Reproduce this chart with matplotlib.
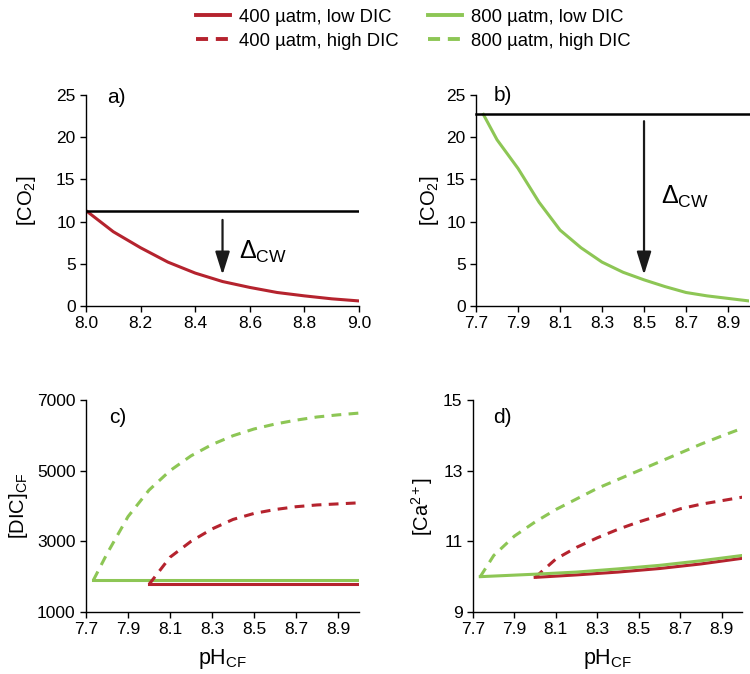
import numpy as np
import matplotlib
matplotlib.use("Agg")
import matplotlib.pyplot as plt
from matplotlib.lines import Line2D

# =========================
# DATA
# =========================

red = "#b5232e"
green = "#8dc655"

# a) 400 uatm, CO2 vs pH
a_ph = [8.0, 8.1, 8.2, 8.3, 8.4, 8.5, 8.6, 8.7, 8.8, 8.9, 9.0]
a_co2 = [11.3, 8.8, 6.9, 5.2, 3.9, 2.9, 2.2, 1.6, 1.2, 0.85, 0.6]
a_cw = 11.3

# b) 800 uatm, CO2 vs pH
b_ph = [7.735, 7.8, 7.9, 8.0, 8.1, 8.2, 8.3, 8.4, 8.5, 8.6, 8.7, 8.8, 8.9, 9.0]
b_co2 = [22.7, 19.7, 16.3, 12.3, 9.0, 6.9, 5.2, 4.0, 3.1, 2.3, 1.6, 1.2, 0.9, 0.6]
b_cw = 22.7

# c) DIC in calcifying fluid
c_green_low_ph = [7.735, 9.0]
c_green_low = [1900, 1900]
c_red_low_ph = [8.0, 9.0]
c_red_low = [1780, 1780]
c_green_high_ph = [7.735, 7.8, 7.9, 8.0, 8.1, 8.2, 8.3, 8.4, 8.5, 8.6, 8.7, 8.8, 8.9, 9.0]
c_green_high = [1900, 2650, 3700, 4450, 5000, 5420, 5740, 5990, 6180, 6320, 6430, 6520, 6580, 6630]
c_red_high_ph = [8.0, 8.1, 8.2, 8.3, 8.4, 8.5, 8.6, 8.7, 8.8, 8.9, 9.0]
c_red_high = [1780, 2550, 3000, 3350, 3620, 3790, 3900, 3980, 4030, 4060, 4090]

# d) Ca2+ in calcifying fluid
d_green_low_ph = [7.735, 8.0, 8.2, 8.4, 8.6, 8.8, 9.0]
d_green_low = [10.0, 10.07, 10.13, 10.22, 10.32, 10.45, 10.6]
d_red_low_ph = [8.0, 8.2, 8.4, 8.6, 8.8, 9.0]
d_red_low = [9.98, 10.05, 10.13, 10.23, 10.36, 10.52]
d_green_high_ph = [7.735, 7.8, 7.9, 8.0, 8.1, 8.2, 8.3, 8.4, 8.5, 8.6, 8.7, 8.8, 8.9, 9.0]
d_green_high = [10.0, 10.6, 11.15, 11.55, 11.9, 12.2, 12.5, 12.75, 13.0, 13.25, 13.5, 13.75, 13.98, 14.2]
d_red_high_ph = [8.0, 8.1, 8.2, 8.3, 8.4, 8.5, 8.6, 8.7, 8.8, 8.9, 9.0]
d_red_high = [9.98, 10.5, 10.83, 11.1, 11.34, 11.55, 11.73, 11.92, 12.05, 12.15, 12.25]

labels = ["400 µatm, low DIC", "400 µatm, high DIC",
          "800 µatm, low DIC", "800 µatm, high DIC"]

# =========================
# STYLE
# =========================

plt.rcParams["font.family"] = ["Liberation Sans", "DejaVu Sans"]
plt.rcParams["mathtext.fontset"] = "custom"
plt.rcParams["mathtext.rm"] = "Liberation Sans"
plt.rcParams["mathtext.it"] = "Liberation Sans:italic"
plt.rcParams["font.size"] = 12.5

lw = 2.2
dash = (0, (3.2, 2.4))

fig = plt.figure(figsize=(7.5, 6.74), dpi=100)
ax_a = fig.add_axes([0.1147, 0.546, 0.364, 0.313])
ax_b = fig.add_axes([0.6347, 0.546, 0.364, 0.313])
ax_c = fig.add_axes([0.1147, 0.092, 0.364, 0.3145])
ax_d = fig.add_axes([0.6307, 0.092, 0.359, 0.3145])


def style(ax):
    for s in ["top", "right"]:
        ax.spines[s].set_visible(False)
    for s in ["left", "bottom"]:
        ax.spines[s].set_linewidth(1.0)
    ax.tick_params(direction="out", length=4, width=1.0, labelsize=12.5)


for ax in [ax_a, ax_b, ax_c, ax_d]:
    style(ax)

arrow = dict(arrowstyle="-|>,head_length=0.7,head_width=0.22", lw=1.6,
             color="#1a1a1a", mutation_scale=20, shrinkA=0, shrinkB=0)

# a)
ax_a.plot(a_ph, a_co2, color=red, lw=lw)
ax_a.plot([8.0, 9.0], [a_cw, a_cw], color="black", lw=1.8)
ax_a.annotate("", xy=(8.5, 3.7), xytext=(8.5, 10.2), arrowprops=arrow)
ax_a.text(8.56, 6.4, r"$\Delta_{\rm CW}$", fontsize=18, va="center")
ax_a.set_xlim(8.0, 9.0)
ax_a.set_ylim(0, 25)
ax_a.set_xticks(np.arange(8.0, 9.01, 0.2))
ax_a.set_xticklabels([f"{v:.1f}" for v in np.arange(8.0, 9.01, 0.2)])
ax_a.set_yticks([0, 5, 10, 15, 20, 25])
ax_a.set_ylabel("[CO$_2$]", fontsize=14.5, labelpad=13)
ax_a.text(8.11, 24.7, "a)", fontsize=15, ha="center", va="center")

# b)
xt = np.arange(7.7, 8.91, 0.2)
ax_b.plot(b_ph, b_co2, color=green, lw=lw)
ax_b.plot([7.7, 9.0], [b_cw, b_cw], color="black", lw=1.8, clip_on=False)
ax_b.annotate("", xy=(8.5, 3.7), xytext=(8.5, 21.9), arrowprops=arrow)
ax_b.text(8.58, 12.9, r"$\Delta_{\rm CW}$", fontsize=18, va="center")
ax_b.set_xlim(7.7, 9.0)
ax_b.set_ylim(0, 25)
ax_b.set_xticks(xt)
ax_b.set_xticklabels([f"{v:.1f}" for v in xt])
ax_b.set_yticks([0, 5, 10, 15, 20, 25])
ax_b.set_ylabel("[CO$_2$]", fontsize=14.5, labelpad=4)
ax_b.text(7.83, 25.0, "b)", fontsize=15, ha="center", va="center")

# c)
ax_c.plot(c_green_low_ph, c_green_low, color=green, lw=lw)
ax_c.plot(c_red_low_ph, c_red_low, color=red, lw=lw)
ax_c.plot(c_green_high_ph, c_green_high, color=green, lw=lw, linestyle=dash)
ax_c.plot(c_red_high_ph, c_red_high, color=red, lw=lw, linestyle=dash)
ax_c.set_xlim(7.7, 9.0)
ax_c.set_ylim(1000, 7000)
ax_c.set_xticks(xt)
ax_c.set_xticklabels([f"{v:.1f}" for v in xt])
ax_c.set_yticks([1000, 3000, 5000, 7000])
ax_c.set_ylabel("[DIC]$_{\\rm CF}$", fontsize=14.5, labelpad=5)
ax_c.set_xlabel("pH$_{\\rm CF}$", fontsize=15.5, labelpad=7)
ax_c.text(7.85, 6500, "c)", fontsize=15, ha="center", va="center")

# d)
ax_d.plot(d_green_high_ph, d_green_high, color=green, lw=lw, linestyle=dash)
ax_d.plot(d_red_high_ph, d_red_high, color=red, lw=lw, linestyle=dash)
ax_d.plot(d_red_low_ph, d_red_low, color=red, lw=lw)
ax_d.plot(d_green_low_ph, d_green_low, color=green, lw=lw)
ax_d.set_xlim(7.7, 9.0)
ax_d.set_ylim(9, 15)
ax_d.set_xticks(xt)
ax_d.set_xticklabels([f"{v:.1f}" for v in xt])
ax_d.set_yticks([9, 11, 13, 15])
ax_d.set_ylabel("[Ca$^{2+}$]", fontsize=14.5, labelpad=6)
ax_d.set_xlabel("pH$_{\\rm CF}$", fontsize=15.5, labelpad=7)
ax_d.text(7.84, 14.5, "d)", fontsize=15, ha="center", va="center")

# legend
handles = [
    Line2D([], [], color=red, lw=2.8),
    Line2D([], [], color=red, lw=2.8, linestyle=(0, (3.1, 2.0))),
    Line2D([], [], color=green, lw=2.8),
    Line2D([], [], color=green, lw=2.8, linestyle=(0, (3.1, 2.0))),
]
fig.legend(handles, labels, ncol=2, loc="upper center",
           bbox_to_anchor=(0.551, 1.012), frameon=False, fontsize=13.3,
           handlelength=1.84, handletextpad=0.5, columnspacing=1.56,
           labelspacing=0.4)

fig.savefig("out.png", dpi=100)
